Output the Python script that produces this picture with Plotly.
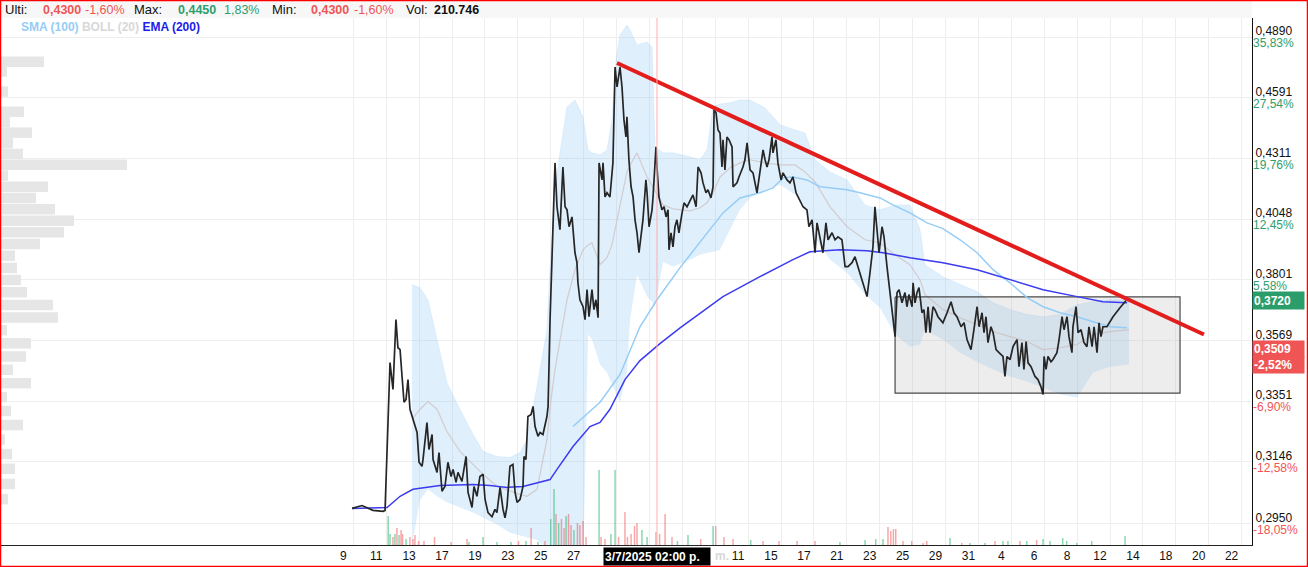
import numpy as np
import plotly.graph_objects as go

# ---------------- DATA ----------------
# time axis: trading days (fractional), price in currency units
price_t = [
    0.67, 1.27, 1.94, 2.55, 2.67, 2.97, 3.15, 3.21, 3.33, 3.45, 3.58, 3.70, 3.82, 3.94, 4.06, 4.18, 4.36, 4.61, 4.73, 4.91, 4.97,
    5.21, 5.33, 5.52, 5.58, 5.82, 5.94, 6.12, 6.30, 6.48, 6.67, 6.79, 6.97, 7.09, 7.33, 7.58, 7.70, 7.94, 8.06, 8.24, 8.42, 8.61, 8.73, 8.91,
    9.15, 9.33, 9.45, 9.64, 9.82, 9.94, 10.06, 10.24, 10.42, 10.55, 10.67, 10.85, 11.03, 11.09, 11.21, 11.33, 11.52, 11.64, 11.76, 11.94,
    12.06, 12.24, 12.48, 12.55, 12.67, 12.85, 12.97, 13.09, 13.15, 13.27, 13.45, 13.58, 13.70, 13.82, 14.00,
    14.06, 14.18, 14.30, 14.36, 14.48, 14.67, 14.79, 14.91, 15.03, 15.21, 15.33, 15.45, 15.58, 15.64, 15.82,
    15.88, 16.00, 16.12, 16.30, 16.48, 16.61, 16.73, 16.91, 17.03, 17.15, 17.27, 17.33, 17.45, 17.58, 17.70,
    17.82, 17.94, 18.06, 18.24, 18.30, 18.48, 18.55, 18.67, 18.85, 18.91, 19.09, 19.15, 19.27, 19.45, 19.58,
    19.70, 19.82, 19.88, 20.00, 20.12, 20.24, 20.36, 20.48, 20.67, 20.79, 20.97, 21.15, 21.33, 21.52, 21.64,
    21.82, 21.94, 22.12, 22.24, 22.42, 22.55, 22.61, 22.73, 22.85, 22.97, 23.09, 23.15, 23.27, 23.39, 23.52,
    23.70, 23.76, 24.00, 24.12, 24.36,
    24.48, 24.61, 24.79, 24.97, 25.21, 25.39, 25.58, 25.70, 25.82, 25.94, 26.12, 26.18, 26.36, 26.48, 26.67, 26.79, 27.03, 27.21, 27.39,
    27.58, 27.82, 28.00, 28.24, 28.36, 28.55, 28.73, 28.85, 29.03, 29.21, 29.39, 29.52, 29.76, 29.94, 30.12, 30.36, 30.55, 30.73, 30.97,
    31.15, 31.33, 31.58, 31.88, 32.06, 32.24, 32.36, 32.48, 32.61, 32.79, 32.91, 33.09, 33.27, 33.45, 33.58, 33.70, 33.82, 34.00, 34.18,
    34.30, 34.42, 34.61, 34.67, 34.79, 34.91, 35.03, 35.21, 35.33, 35.45, 35.58, 35.70, 35.88, 36.00, 36.18, 36.48, 36.73, 36.97, 37.15,
    37.33, 37.58, 37.76, 37.94, 38.18, 38.36, 38.55, 38.67, 38.85, 38.97, 39.09, 39.21, 39.39, 39.52, 39.70, 39.88, 40.12, 40.24, 40.36,
    40.55, 40.73, 40.97, 41.09, 41.27, 41.39, 41.52, 41.64, 41.82, 42.06, 42.24, 42.42, 42.55, 42.61, 42.73, 42.85, 43.03, 43.15, 43.39,
    43.52, 43.70, 43.82, 44.00, 44.12, 44.30, 44.36, 44.55, 44.67, 44.85, 45.03, 45.21, 45.33, 45.52, 45.64, 45.82, 45.94, 46.06, 46.18,
    46.42, 46.79, 47.21, 47.58,
]
price_v = [
    .2998, .3007, .2992, .2989, .2992, .3488, .3392, .3499, .3647, .3542, .3535, .3438, .3347, .3357, .3427, .3323, .3288, .3244, .3145, .3132, .3154,
    .3277, .3187, .3237, .3154, .3112, .3177, .3052, .3067, .3145, .3099, .3122, .3080, .3112, .3083, .3164, .3048, .3001, .3067, .3036, .3099, .3106, .3026, .2985,
    .2972, .2995, .2985, .3064, .2995, .2969, .3004, .3132, .3138, .3048, .3017, .3026, .3067, .3164, .3154, .3298, .3305, .3333, .3264, .3231,
    .3244, .3237, .3298, .3333, .3647, .4045, .4291, .4100, .4074, .4004, .4273, .4100, .4087, .4016, .4057,
    .3991, .3909, .3869, .3789, .3723, .3696, .3647, .3762, .3658, .3762, .3685, .3723, .3654, .4291, .4216,
    .4291, .4142, .4160, .4142, .4291, .4740, .4643, .4740, .4643, .4487, .4408, .4501, .4305, .4186, .4142,
    .4045, .3991, .3909, .4016, .4045, .4216, .4160, .4016, .4087, .4142, .4363, .4273, .4142, .4087, .4100,
    .4057, .4087, .3921, .3991, .3933, .4016, .4045, .3991, .4074, .4117, .4100, .4129, .4151, .4100, .4273,
    .4247, .4203, .4160, .4173, .4138, .4186, .4534, .4520, .4440, .4426, .4273, .4395, .4260, .4408, .4395,
    .4363, .4186, .4203, .4229, .4273,
    .4305, .4381, .4260, .4247, .4160, .4260, .4349, .4305, .4273, .4305, .4408, .4336, .4395, .4291, .4216, .4247, .4216, .4203, .4229,
    .4160, .4129, .4100, .4087, .4016, .4045, .3909, .4032, .3962, .3909, .4032, .3962, .3991, .3962, .3974, .3962, .3853, .3853, .3869,
    .3893, .3853, .3801, .3735, .3829, .3933, .4100, .4016, .3909, .4016, .3974, .3853, .3751, .3673, .3583, .3751, .3762, .3711, .3751,
    .3696, .3743, .3696, .3789, .3711, .3751, .3770, .3673, .3685, .3598, .3696, .3598, .3696, .3685, .3658, .3635, .3673, .3715, .3673,
    .3658, .3620, .3635, .3572, .3535, .3609, .3696, .3620, .3673, .3598, .3658, .3561, .3620, .3598, .3535, .3524, .3510, .3438, .3510,
    .3499, .3546, .3572, .3473, .3561, .3463, .3565, .3487, .3473, .3438, .3427, .3402, .3374, .3510, .3463, .3510, .3491, .3499, .3524,
    .3572, .3658, .3609, .3658, .3583, .3524, .3620, .3696, .3598, .3609, .3561, .3546, .3620, .3546, .3620, .3524, .3635, .3583, .3620,
    .3620, .3658, .3692, .3720,
]

ema_t = [0.67, 2.79, 3.58, 4.36, 6.00, 8.00, 9.03, 10.06, 11.03, 12.06, 12.67, 13.09, 14.06, 15.09, 15.70, 16.30, 17.21, 18.12,
         19.33, 20.55, 21.58, 23.15, 25.39, 27.39, 28.42, 30.24, 31.88, 32.85, 34.48, 36.48, 38.55, 40.55, 42.55, 44.61, 46.18, 47.64]
ema_v = [.2998, .3001, .3036, .3058, .3070, .3073, .3070, .3064, .3067, .3080, .3089, .3122, .3197, .3264, .3278, .3323, .3427, .3495,
         .3557, .3616, .3662, .3735, .3813, .3881, .3913, .3921, .3917, .3909, .3889, .3869, .3841, .3801, .3762, .3735, .3715, .3711]

sma_t = [14.06, 15.70, 16.91, 18.12, 19.15, 20.55, 21.58, 22.55, 23.15, 24.18, 25.39, 26.18, 26.79, 27.39, 28.24, 29.03, 30.67,
         31.45, 32.67, 33.45, 34.48, 35.52, 36.48, 37.52, 38.55, 39.52, 40.55, 41.58, 42.55, 43.58, 44.61, 45.58, 46.61, 47.64]
sma_v = [.3264, .3347, .3445, .3620, .3723, .3849, .3937, .4020, .4074, .4138, .4160, .4181, .4225, .4229, .4216, .4186, .4173,
         .4160, .4138, .4108, .4074, .4032, .4008, .3962, .3909, .3841, .3789, .3731, .3696, .3673, .3658, .3639, .3620, .3616]

boll_t = [4.30, 4.79, 5.27, 5.82, 6.42, 7.21, 8.00, 8.61, 9.45, 10.24, 10.85, 11.27,
          11.88, 12.48, 12.73, 12.97, 13.27, 13.70, 14.18, 14.67, 14.97, 15.21, 15.70, 16.12, 16.42, 16.67,
          16.91, 17.33, 17.52, 17.94, 18.55, 18.85, 19.03, 19.52, 20.12, 21.15, 21.76, 22.18, 22.55, 22.97,
          23.58, 24.18, 24.79, 25.70, 26.61, 27.52, 28.12, 28.73, 29.64, 30.67, 31.76, 32.67, 33.58, 34.48,
          35.09, 35.39, 36.48, 37.52, 38.55, 39.52, 40.55, 41.58, 42.55, 43.58, 44.61, 45.58, 46.61, 47.76]
boll_up = [.3782, .3770, .3723, .3572, .3416, .3323, .3237, .3181, .3164, .3161, .3177, .3220,
           .3402, .3609, .3921, .4173, .4336, .4548, .4581, .4501, .4349, .4336, .4327, .4349, .4487, .4780,
           .4900, .4951, .4926, .4850, .4865, .4840, .4363, .4336, .4336, .4318, .4305, .4349, .4548, .4562,
           .4567, .4581, .4581, .4543, .4464, .4440, .4426, .4305, .4251, .4216, .4108, .4087, .4108, .4108,
           .4004, .3861, .3813, .3782, .3755, .3711, .3685, .3666, .3658, .3666, .3704, .3715, .3723, .3723]
boll_mid = [.3288, .3323, .3350, .3323, .3247, .3181, .3138, .3106, .3067, .3052, .3042, .3036,
            .3058, .3220, .3357, .3463, .3572, .3723, .3841, .3921, .3941, .3949, .3861, .3889, .3941, .4024,
            .4117, .4251, .4282, .4336, .4229, .4190, .4173, .4108, .4091, .4083, .4096, .4117, .4160, .4229,
            .4269, .4291, .4305, .4291, .4282, .4282, .4251, .4207, .4100, .4016, .3962, .3949, .3901, .3861,
            .3801, .3743, .3685, .3654, .3628, .3602, .3583, .3565, .3535, .3542, .3554, .3591, .3602, .3609]
boll_low = [.2886, .3024, .3058, .3036, .3017, .3001, .2985, .2969, .2948, .2923, .2914, .2908,
            .2901, .2877, .2856, .2835, .2817, .2805, .2798, .2805, .3591, .3572, .3481, .3452, .3409, .3378,
            .3347, .3452, .3647, .3821, .3735, .3715, .3696, .3873, .3853, .3881, .3901, .3909, .3913, .3921,
            .4004, .4087, .4138, .4173, .4195, .4151, .4087, .3970, .3881, .3829, .3743, .3692, .3591, .3546,
            .3554, .3609, .3572, .3524, .3491, .3463, .3438, .3420, .3399, .3374, .3364, .3452, .3473, .3481]

vol_t = [2.86, 2.97, 3.15, 3.27, 3.39, 3.52, 3.64, 3.73, 3.94, 4.18,
         4.36, 4.48, 4.70, 5.03, 5.67, 6.67, 7.64, 7.76, 8.61, 9.45,
         10.30, 10.76, 11.21, 11.52, 11.94, 12.36, 12.71, 12.91, 13.03, 13.19,
         13.36, 13.52, 13.64, 13.79, 13.94, 14.12, 14.33, 14.48, 14.67, 14.85,
         15.64, 15.76, 16.00, 16.36, 16.61, 16.82, 17.21, 17.36, 17.58, 17.79,
         17.94, 18.24, 18.55, 19.09, 19.31, 19.64, 20.06, 20.39, 21.03, 21.80,
         22.55, 22.71, 23.21, 23.76, 24.83, 25.58, 26.55, 27.64, 28.73, 30.24,
         31.76, 32.41, 32.85, 33.15, 33.32, 33.48, 33.62, 34.06, 34.59, 35.27,
         35.50, 36.91, 37.62, 38.12, 39.03, 39.64, 40.12, 40.42, 41.15, 41.56,
         42.16, 42.55, 42.97, 43.74, 43.98, 44.59, 45.50, 47.52]
vol_k = [58, 22, 16, 22, 34, 20, 30, 22, 12, 16,
         12, 20, 8, 8, 16, 6, 12, 6, 16, 6,
         6, 8, 8, 34, 6, 8, 52, 112, 62, 44,
         52, 34, 58, 62, 40, 30, 44, 40, 48, 16,
         150, 16, 12, 22, 150, 16, 66, 16, 22, 38,
         44, 30, 16, 26, 22, 62, 16, 8, 20, 12,
         38, 38, 16, 12, 10, 8, 8, 8, 8, 6,
         10, 12, 12, 36, 28, 32, 32, 8, 8, 4,
         8, 14, 4, 4, 4, 8, 8, 8, 8, 8,
         10, 12, 8, 14, 8, 4, 8, 18]
vol_up = [1, 1, 0, 1, 0, 1, 0, 0, 1, 0,
          0, 0, 0, 0, 0, 0, 0, 1, 1, 1,
          1, 0, 1, 0, 1, 0, 1, 1, 0, 1,
          0, 0, 1, 0, 0, 1, 0, 0, 0, 0,
          1, 0, 0, 1, 1, 0, 0, 0, 0, 0,
          0, 1, 1, 0, 0, 0, 0, 1, 1, 0,
          1, 0, 0, 0, 1, 0, 0, 0, 0, 1,
          1, 1, 1, 0, 0, 0, 0, 0, 0, 0,
          0, 1, 0, 1, 1, 0, 1, 1, 0, 1,
          0, 1, 1, 1, 1, 1, 1, 1]

# volume profile (price level -> volume, k)
prof_price = [.4766, .4718, .4669, .4621, .4573, .4525, .4476, .4428, .4380, .4331, .4283, .4235, .4186,
              .4138, .4090, .4041, .3993, .3945, .3897, .3848, .3800, .3752, .3703, .3655, .3607, .3558,
              .3510, .3462, .3414, .3365, .3317, .3269, .3220, .3172, .3124, .3075, .3027]
prof_vol = [430, 60, 0, 70, 0, 230, 90, 310, 120, 220, 1260, 70, 470,
            350, 540, 730, 630, 390, 140, 160, 200, 260, 520, 570, 60, 300,
            250, 120, 300, 60, 100, 220, 40, 110, 140, 140, 70]

trend_t = [16.73, 52.30]
trend_p = [0.4760, 0.3591]
box_t = [33.58, 50.85]
box_p = [0.3734, 0.3379]

last_price = 0.3720
cursor_price = 0.3509
cursor_pct = "-2,52%"
cursor_t = 19.15
cursor_label = "3/7/2025 02:00 p."
ref_price = 0.3000

tick_prices = [0.4890, 0.4591, 0.4311, 0.4048, 0.3801, 0.3569, 0.3351, 0.3146, 0.2950]
tick_pct = ["35,83%", "27,54%", "19,76%", "12,45%", "5,58%", "", "-6,90%", "-12,58%", "-18,05%"]
x_labels = ["9", "11", "13", "17", "19", "23", "25", "27", "1", "3", "7", "9", "11", "15",
            "17", "21", "23", "25", "29", "31", "4", "6", "8", "12", "14", "18", "20", "22"]

hdr_last, hdr_last_chg = 0.4300, -1.60
hdr_max, hdr_max_chg = 0.4450, 1.83
hdr_min, hdr_min_chg = 0.4300, -1.60
hdr_vol = "210.746"

# ---------------- STYLE / LAYOUT ----------------
W, H = 1308, 567
L, R, T, B = 1, 56, 18, 22
PW, PH = W - L - R, H - T - B
X0_PX, PX_PER_DAY = 341.0, 16.5
x_range = [(L - X0_PX) / PX_PER_DAY, (W - R - X0_PX) / PX_PER_DAY]
y_range = [np.log10(0.28863), np.log10(0.49874)]
tick_t = [0.745 + 1.994 * k for k in range(len(x_labels))]
# labels hidden under the crosshair time box are left blank (as in the reference)
tick_txt = [("" if 0.3 < (t - cursor_t) * PX_PER_DAY + 10 < 62 else s) for t, s in zip(tick_t, x_labels)]

GREEN = "#2e9e6e"
RED = "#f05555"
FONT = "Liberation Sans, Arial, sans-serif"


def fx(px):
    return (px - L) / PW


def fy(py):
    return (H - B - py) / PH


def f4(v):
    return f"{v:.4f}".replace(".", ",")


def fpct(v):
    return f"{v:.2f}%".replace(".", ",")


fig = go.Figure()

# Bollinger band
fig.add_trace(go.Scatter(x=boll_t, y=boll_low, mode="lines", line=dict(width=0, color="rgba(0,0,0,0)"),
                         hoverinfo="skip", showlegend=False))
fig.add_trace(go.Scatter(x=boll_t, y=boll_up, mode="lines", line=dict(width=0.6, color="rgba(160,210,250,0.4)"),
                         fill="tonexty", fillcolor="rgba(135,195,245,0.27)", hoverinfo="skip", showlegend=False))
fig.add_trace(go.Scatter(x=boll_t, y=boll_mid, mode="lines", line=dict(width=1.2, color="rgba(205,192,192,0.75)"),
                         hoverinfo="skip", showlegend=False))

# rectangle (range box)
fig.add_trace(go.Scatter(x=[box_t[0], box_t[1], box_t[1], box_t[0], box_t[0]],
                         y=[box_p[0], box_p[0], box_p[1], box_p[1], box_p[0]],
                         mode="lines", fill="toself", fillcolor="rgba(185,185,185,0.26)",
                         line=dict(color="#4a4a4a", width=1.2), hoverinfo="skip", showlegend=False))

# SMA, EMA, price
fig.add_trace(go.Scatter(x=sma_t, y=sma_v, mode="lines", line=dict(color="#95cdf7", width=1.5),
                         hoverinfo="skip", showlegend=False))
fig.add_trace(go.Scatter(x=ema_t, y=ema_v, mode="lines", line=dict(color="#3b3bf0", width=1.5),
                         hoverinfo="skip", showlegend=False))
fig.add_trace(go.Scatter(x=price_t, y=price_v, mode="lines", line=dict(color="#262626", width=1.7),
                         hoverinfo="skip", showlegend=False))

# volume bars
fig.add_trace(go.Bar(x=vol_t, y=vol_k, yaxis="y2", width=0.09,
                     marker=dict(color=["rgba(40,180,110,0.55)" if u else "rgba(240,80,80,0.5)" for u in vol_up],
                                 line=dict(width=0)),
                     hoverinfo="skip", showlegend=False))

# volume profile
pxs, pys = [], []
for p, v in zip(prof_price, prof_vol):
    if v > 0:
        pxs += [0, v, None]
        pys += [p, p, None]
fig.add_trace(go.Scatter(x=pxs, y=pys, xaxis="x2", mode="lines", line=dict(color="#e6e6e6", width=10.5),
                         hoverinfo="skip", showlegend=False))

# trend line (on overlay axis so it sits on top)
fig.add_trace(go.Scatter(x=trend_t, y=trend_p, yaxis="y3", mode="lines", line=dict(color="#e31c1c", width=4),
                         hoverinfo="skip", showlegend=False))

shapes = [
    dict(type="rect", xref="paper", yref="paper", x0=fx(0), x1=1, y0=fy(T), y1=fy(0),
         fillcolor="#f7f7f7", line=dict(width=0), layer="below"),
    dict(type="line", xref="paper", yref="y", x0=0, x1=1, y0=np.log10(ref_price), y1=np.log10(ref_price),
         line=dict(color="#555555", width=1.5, dash="dot")),
    dict(type="line", xref="paper", yref="y", x0=0, x1=1, y0=np.log10(cursor_price), y1=np.log10(cursor_price),
         line=dict(color="#ffb0b0", width=1)),
    dict(type="line", xref="x", yref="paper", x0=cursor_t, x1=cursor_t, y0=0, y1=1,
         line=dict(color="#ffb0b0", width=1)),
    dict(type="line", xref="paper", yref="y", x0=0, x1=1, y0=np.log10(last_price), y1=np.log10(last_price),
         line=dict(color="#3d55f5", width=1.3, dash="5px,4px")),
    dict(type="rect", xref="paper", yref="paper", x0=fx(0.5), x1=fx(W - 0.5), y0=fy(H - 0.5), y1=fy(0.5),
         line=dict(color="#ff0000", width=1.5), fillcolor="rgba(0,0,0,0)"),
]

ann = []
hdr = [
    (3, "Ulti:", "#111111", False, 13),
    (41, f4(hdr_last), RED, True, 12.5),
    (83, fpct(hdr_last_chg), RED, False, 12.5),
    (132, "Max:", "#111111", False, 13),
    (176, f4(hdr_max), GREEN, True, 12.5),
    (222, fpct(hdr_max_chg), GREEN, False, 12.5),
    (270, "Min:", "#111111", False, 13),
    (309, f4(hdr_min), RED, True, 12.5),
    (352, fpct(hdr_min_chg), RED, False, 12.5),
    (404, "Vol:", "#111111", False, 13),
    (432, hdr_vol, "#111111", True, 12.5),
]
for px, txt, col, bold, sz in hdr:
    ann.append(dict(xref="paper", yref="paper", x=fx(px), y=fy(9.5), xanchor="left", yanchor="middle",
                    text=f"<b>{txt}</b>" if bold else txt, showarrow=False,
                    font=dict(color=col, size=sz, family=FONT)))
ann.append(dict(xref="paper", yref="paper", x=fx(19), y=fy(27), xanchor="left", yanchor="middle", showarrow=False,
                text="<b><span style='color:#95cdf7'>SMA (100)</span> <span style='color:#d8d8d8'>BOLL (20)</span> "
                     "<span style='color:#1c1cec'>EMA (200)</span></b>",
                font=dict(size=12, family=FONT)))

# right-side value boxes
ann.append(dict(xref="paper", yref="y", x=1, y=np.log10(last_price), xanchor="left", yanchor="middle",
                text=f"<b>{f4(last_price)}</b>", showarrow=False, bgcolor="#2a9d6b", width=49, height=15,
                align="left", borderpad=1, font=dict(color="white", size=12, family=FONT)))
ann.append(dict(xref="paper", yref="y", x=1, y=np.log10(cursor_price), xanchor="left", yanchor="middle", yshift=8,
                text=f"<b>{f4(cursor_price)}</b>", showarrow=False, bgcolor=RED, width=49, height=14,
                align="left", borderpad=1, font=dict(color="white", size=12, family=FONT)))
ann.append(dict(xref="paper", yref="y", x=1, y=np.log10(cursor_price), xanchor="left", yanchor="middle", yshift=-8,
                text=f"<b>{cursor_pct}</b>", showarrow=False, bgcolor=RED, width=49, height=14,
                align="left", borderpad=1, font=dict(color="white", size=12, family=FONT)))

# crosshair time label
ann.append(dict(xref="x", yref="paper", x=cursor_t, y=0, xanchor="center", yanchor="top", yshift=-2,
                text=f"<b>{cursor_label}</b>", showarrow=False, bgcolor="#000000", width=104, height=15,
                align="left", borderpad=1, font=dict(color="white", size=12, family=FONT)))
ann.append(dict(xref="x", yref="paper", x=cursor_t, y=0, xanchor="left", yanchor="top", yshift=-2, xshift=56,
                text="<b>m.</b>", showarrow=False, font=dict(color="#d8d8d8", size=12, family=FONT)))

pct_text = []
for s in tick_pct:
    col = RED if s.startswith("-") else GREEN
    pct_text.append(f"<span style='color:{col}'>{s}</span>" if s else " ")

fig.update_layout(
    width=W, height=H, autosize=False,
    margin=dict(l=L, r=R, t=T, b=B, pad=0),
    paper_bgcolor="white", plot_bgcolor="white",
    font=dict(family=FONT, size=12, color="#111111"),
    showlegend=False, hovermode=False,
    xaxis=dict(range=x_range, tickmode="array", tickvals=tick_t, ticktext=tick_txt, ticklabelshift=-10,
               showgrid=True, gridcolor="#eeeeee", gridwidth=1, zeroline=False,
               showline=True, linecolor="#222222", linewidth=1, ticks="",
               tickfont=dict(size=12, color="#111111", family=FONT), fixedrange=True),
    xaxis2=dict(range=[0, PW * 10], overlaying="x", anchor="y", visible=False, fixedrange=True),
    yaxis=dict(type="log", range=y_range, side="right", tickmode="array", tickvals=tick_prices,
               ticktext=[f4(p) for p in tick_prices], ticklabelshift=-6,
               showgrid=True, gridcolor="#eeeeee", gridwidth=1, zeroline=False,
               showline=True, linecolor="#111111", linewidth=1, ticks="",
               tickfont=dict(size=12, color="#111111", family=FONT), fixedrange=True),
    yaxis2=dict(range=[0, PH * 2], overlaying="y", anchor="x", visible=False, fixedrange=True),
    yaxis3=dict(type="log", range=y_range, overlaying="y", anchor="x", side="right", tickmode="array",
                tickvals=tick_prices, ticktext=pct_text, ticklabelshift=6, showgrid=False, zeroline=False,
                showline=False, ticks="", tickfont=dict(size=12, family=FONT), fixedrange=True),
    shapes=shapes,
    annotations=ann,
)

fig.write_html("out.html", include_plotlyjs=True, config={"displayModeBar": False, "staticPlot": True})
